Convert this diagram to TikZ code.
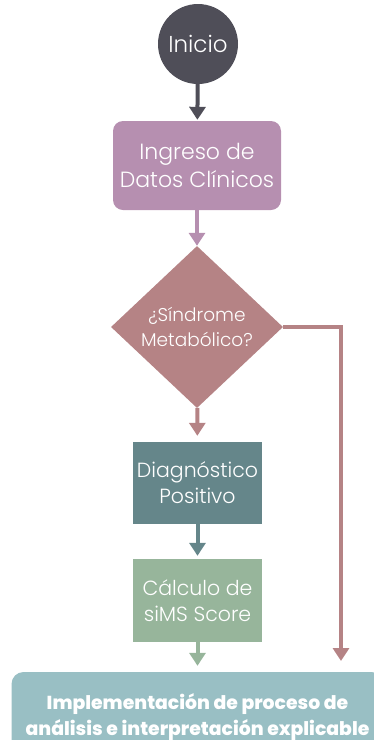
\documentclass[tikz,border=0pt]{standalone}
\usepackage{fontspec}
\setmainfont{Poppins}[UprightFont={* Light},BoldFont={* ExtraBold}]
\usetikzlibrary{arrows.meta,shapes.geometric}
\definecolor{cIni}{HTML}{4F4E58}
\definecolor{cIng}{HTML}{B68FB0}
\definecolor{cDia}{HTML}{B58385}
\definecolor{cDiag}{HTML}{65868A}
\definecolor{cCalc}{HTML}{97B59B}
\definecolor{cImp}{HTML}{99BFC4}
\tikzset{
  lbl/.style={text=white, align=center, inner sep=0pt, font=\fontsize{20.5}{26}\selectfont},
  flow/.style={line width=4pt, -{Triangle[width=16pt,length=13pt]}},
}
\begin{document}
\begin{tikzpicture}[x=1pt,y=-1pt]
\useasboundingbox (0,0) rectangle (374,740);
\clip (0,0) rectangle (374,740);
\node[circle, fill=cIni, minimum size=80pt, lbl, font=\fontsize{23}{26}\selectfont] (ini) at (198,44) {Inicio};
\node[rectangle, rounded corners=10pt, fill=cIng, minimum width=168pt, minimum height=89pt, lbl, font=\fontsize{22}{28}\selectfont] (ing) at (197,165.5) {Ingreso de\\Datos Clínicos};
\node[diamond, fill=cDia, minimum width=172pt, minimum height=162pt, lbl, font=\fontsize{18.5}{25}\selectfont] (dia) at (197,327) {¿Síndrome\\Metabólico?};
\node[rectangle, fill=cDiag, minimum width=129pt, minimum height=82pt, lbl] (diag) at (197.5,483) {Diagnóstico\\Positivo};
\node[rectangle, fill=cCalc, minimum width=129pt, minimum height=83pt, lbl] (calc) at (197.5,600.5) {Cálculo de\\siMS Score};
\node[rectangle, rounded corners=12pt, fill=cImp, minimum width=372pt, minimum height=90pt, lbl, font=\fontsize{18.8}{26}\bfseries\selectfont] (imp) at (197.5,717) {Implementación de proceso de\\análisis e interpretación explicable};
\coordinate (brend) at (341,661);
\draw[flow, cIni, shorten >=1pt] (ini) -- (ing);
\draw[flow, cIng] (ing) -- (dia);
\draw[flow, cDia, shorten >=6pt] (dia) -- (diag);
\draw[flow, cDiag, shorten >=3pt] (diag) -- (calc);
\draw[flow, cCalc, shorten >=6pt] (calc) -- (imp);
\draw[line width=3.5pt, cDia, -{Triangle[width=16pt,length=13pt]}] (dia.east) -| (brend);
\end{tikzpicture}
\end{document}
